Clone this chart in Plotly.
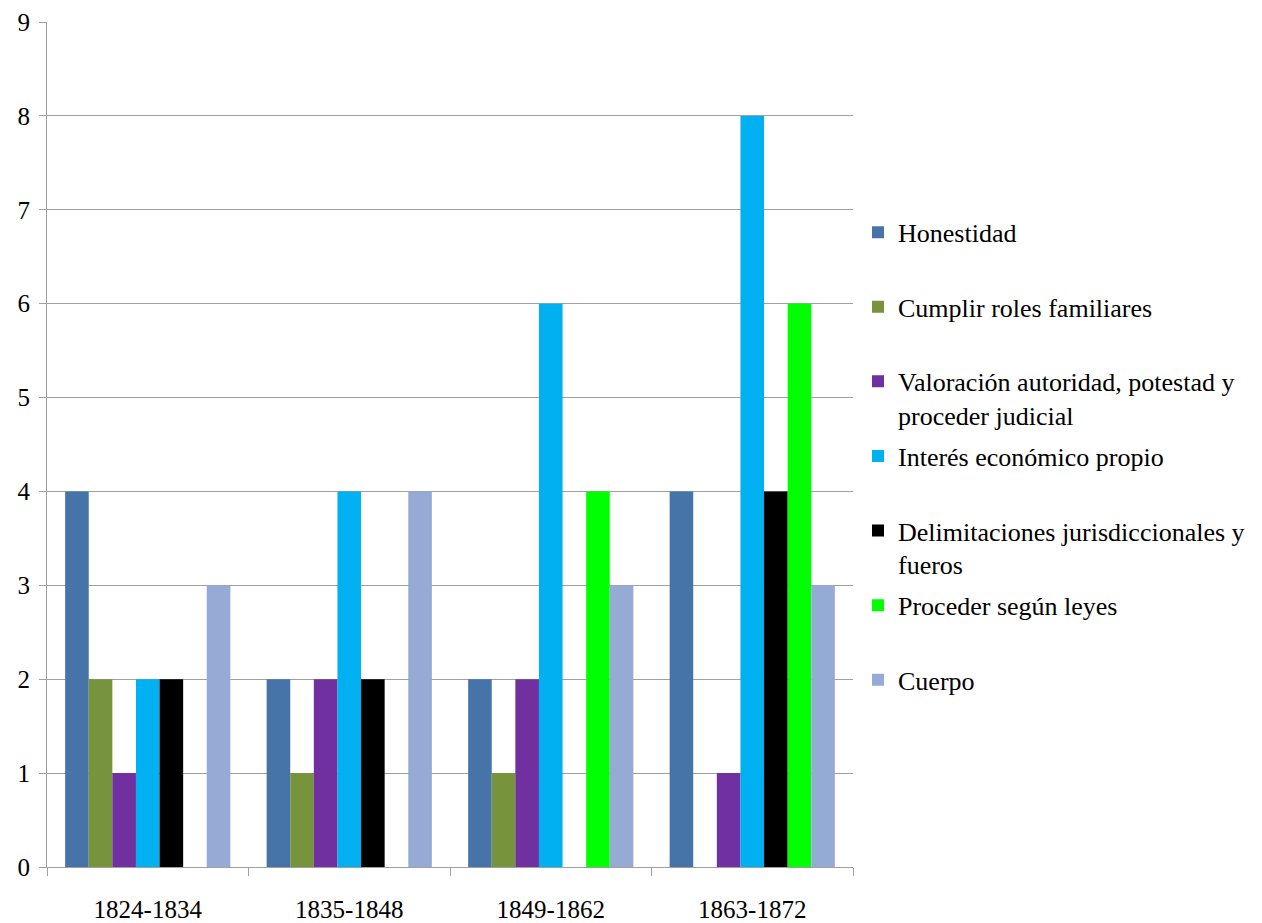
import plotly.graph_objects as go

categories = ["1824-1834", "1835-1848", "1849-1862", "1863-1872"]
series_names = [
    "Honestidad",
    "Cumplir roles familiares",
    "Valoración autoridad, potestad y<br>proceder judicial",
    "Interés económico propio",
    "Delimitaciones jurisdiccionales y<br>fueros",
    "Proceder según leyes",
    "Cuerpo",
]
honestidad = [4, 2, 2, 4]
cumplir = [2, 1, 1, 0]
valoracion = [1, 2, 2, 1]
interes = [2, 4, 6, 8]
delimitaciones = [2, 2, 0, 4]
proceder = [0, 0, 4, 6]
cuerpo = [3, 4, 3, 3]
values = [honestidad, cumplir, valoracion, interes, delimitaciones, proceder, cuerpo]
colors = ["#4674A8", "#77933C", "#7030A0", "#00B0F0", "#000000", "#00FF00", "#95AAD4"]

FONT = "Liberation Serif"

fig = go.Figure()
for i, (name, vals, col) in enumerate(zip(series_names, values, colors)):
    label = name if "<br>" in name else name + "<br> "
    fig.add_trace(go.Bar(
        x=categories, y=vals, name=label, marker=dict(color=col, line=dict(width=0)),
        legendgroup=f"g{i}",
    ))

fig.update_layout(
    width=1262, height=923,
    margin=dict(l=47, r=409, t=22, b=56),
    paper_bgcolor="white", plot_bgcolor="white",
    font=dict(family=FONT, size=25, color="black"),
    barmode="group", bargap=0.18, bargroupgap=0,
    showlegend=True,
    legend=dict(
        x=1.0062, y=0.779, xanchor="left", yanchor="top",
        font=dict(family=FONT, size=26, color="black"),
        valign="top", itemwidth=30, tracegroupgap=4,
        bgcolor="rgba(0,0,0,0)",
    ),
    xaxis=dict(
        showgrid=False, showline=True, linecolor="#A0A0A0", linewidth=1,
        ticks="outside", tickson="boundaries", ticklen=8, tickcolor="#A0A0A0",
        ticklabelstandoff=20, tickfont=dict(family=FONT, size=25), automargin=False,
    ),
    yaxis=dict(
        range=[0, 9], dtick=1, showgrid=True, gridcolor="#A0A0A0", gridwidth=1,
        showline=True, linecolor="#A0A0A0", linewidth=1,
        ticks="outside", ticklen=7, tickcolor="#A0A0A0", automargin=False,
        zeroline=False, tickfont=dict(family=FONT, size=25), ticklabelstandoff=4,
    ),
)

fig.write_html("out.html")
